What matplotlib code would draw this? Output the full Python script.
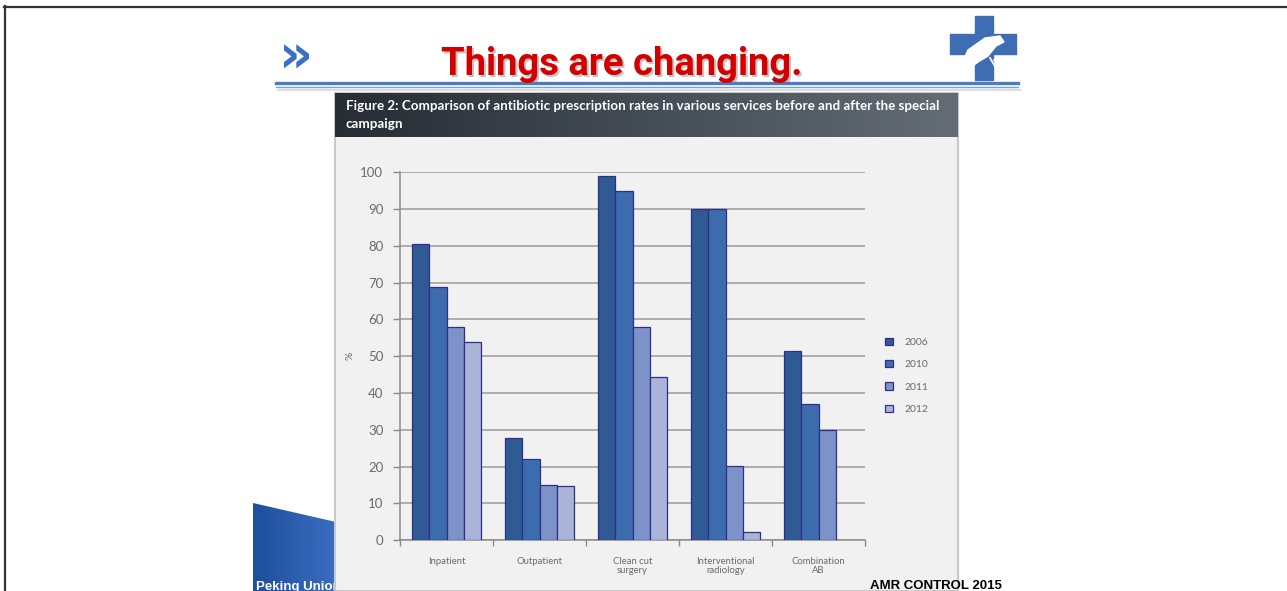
import numpy as np
import matplotlib
matplotlib.use("Agg")
import matplotlib.pyplot as plt
from matplotlib.patches import Polygon, Rectangle
from matplotlib.colors import LinearSegmentedColormap

# ---------------- data ----------------
categories = ["Inpatient", "Outpatient", "Clean cut\nsurgery",
              "Interventional\nradiology", "Combination\nAB"]
years = ["2006", "2010", "2011", "2012"]
y2006 = [80.5, 27.8, 99.1, 90.0, 51.5]
y2010 = [68.8, 22.1, 95.0, 90.0, 36.9]
y2011 = [58.0, 15.1, 58.0, 20.2, 29.9]
y2012 = [53.9, 14.7, 44.4, 2.3, np.nan]
yticks = [0, 10, 20, 30, 40, 50, 60, 70, 80, 90, 100]

series = [y2006, y2010, y2011, y2012]
colors = ["#2f5a93", "#3c6cae", "#7d92c8", "#aab4d8"]
edge = "#2e2f86"

W, H = 1287, 591
fig = plt.figure(figsize=(W / 100, H / 100), dpi=100)
fig.patch.set_facecolor("white")

# canvas axes in pixel coordinates
cv = fig.add_axes([0, 0, 1, 1])
cv.set_xlim(0, W)
cv.set_ylim(H, 0)
cv.axis("off")

# outer frame lines
cv.plot([4, W], [6.5, 6.5], color="#333333", lw=1.6, zorder=1)
cv.plot([4.5, 4.5], [6, H], color="#333333", lw=1.6, zorder=1)

# slide title
title_font = ["Roboto", "Liberation Sans"]
cv.text(624, 77, "Things are changing.", color="#8a8a8a", fontsize=27.5,
        fontweight="bold", family=title_font,
        ha="center", va="baseline", alpha=0.5, zorder=2)
cv.text(622, 75, "Things are changing.", color="#d40000", fontsize=27.5,
        fontweight="bold", family=title_font,
        ha="center", va="baseline", zorder=3)

# » icon
cv.text(296, 58, "\u00bb", color="#3a6fc4", fontsize=38, fontweight="bold",
        family="DejaVu Sans", ha="center", va="center", zorder=3)

# rule under title
cv.plot([276, 1018], [83, 83], color="#4a7cc6", lw=2.4, zorder=2)
cv.plot([276, 1018], [87, 87], color="#7aa0d8", lw=1.0, zorder=2)
cv.plot([278, 1020], [89.5, 89.5], color="#dddddd", lw=1.5, zorder=1)

# logo: cross with bird
cross_c = "#3e6db3"
cv.add_patch(Rectangle((975, 16), 18, 64, color=cross_c, zorder=2))
cv.add_patch(Rectangle((950, 34), 66, 20, color=cross_c, zorder=2))
bird = Polygon([[958, 72], [968, 50], [985, 38], [1000, 36], [1004, 42],
                [996, 46], [988, 56], [978, 62], [968, 70]],
               closed=True, color="white", zorder=3)
cv.add_patch(bird)
for k in range(3):
    cv.plot([990 + 4 * k, 1002 + 5 * k], [58 + 2 * k, 78], color="white",
            lw=1.2, zorder=3)

# bottom-left blue shape
grad = np.linspace(0, 1, 100).reshape(1, -1)
blue_cmap = LinearSegmentedColormap.from_list("b", ["#1e4f9c", "#3b6cc0"])
im = cv.imshow(grad, extent=[253, 336, 591, 500], cmap=blue_cmap,
               aspect="auto", zorder=1)
clip = Polygon([[253, 503], [336, 522], [336, 591], [253, 591]],
               closed=True, transform=cv.transData)
im.set_clip_path(clip)
cv.text(256, 590, "Peking Union", color="white", fontsize=9.5,
        fontweight="bold", family="Liberation Sans", ha="left",
        va="baseline", zorder=2)

# chart panel
cv.add_patch(Rectangle((335, 93), 623, 498, facecolor="#f1f1f1",
                       edgecolor="#c8c8c8", lw=1.5, zorder=4))
hdr = np.linspace(0, 1, 200).reshape(1, -1)
hdr_cmap = LinearSegmentedColormap.from_list("h", ["#262d34", "#444c55", "#646d75"])
cv.imshow(hdr, extent=[335, 958, 137, 93], cmap=hdr_cmap, aspect="auto",
          zorder=5)
cv.set_xlim(0, W)
cv.set_ylim(H, 0)
cv.text(346, 110, "Figure 2: Comparison of antibiotic prescription rates in "
        "various services before and after the special",
        color="white", fontsize=9.6, fontweight="bold", family="Lato",
        ha="left", va="baseline", zorder=6)
cv.text(346, 128, "campaign", color="white", fontsize=9.6, fontweight="bold",
        family="Lato", ha="left", va="baseline", zorder=6)

# footer text
cv.text(870, 589, "AMR CONTROL 2015", color="black", fontsize=9.5,
        fontweight="heavy", family="Liberation Sans", ha="left",
        va="baseline", zorder=7)

# ---------------- chart axes ----------------
L, R, T, B = 400, 865, 172.5, 540
ax = fig.add_axes([L / W, 1 - B / H, (R - L) / W, (B - T) / H], zorder=5)
ax.set_facecolor("none")

x = np.arange(len(categories))
bw = 0.186
for i, (vals, c, yr) in enumerate(zip(series, colors, years)):
    offs = (i - 1.5) * bw
    for xi, v in zip(x, vals):
        if np.isnan(v):
            continue
        ax.bar(xi + offs, v, width=bw, color=c, edgecolor=edge, lw=0.9,
               zorder=3)
    ax.bar(np.nan, np.nan, color=c, edgecolor=edge, lw=0.9, label=yr)

ax.set_xlim(-0.5, len(categories) - 0.5)
ax.set_ylim(0, 100)
ax.set_yticks(yticks)
ax.set_yticklabels([str(t) for t in yticks])
ax.yaxis.grid(True, color="#9a9a9a", lw=1.1, zorder=0)
ax.set_axisbelow(True)
for s in ["top", "right"]:
    ax.spines[s].set_visible(False)
for s in ["left", "bottom"]:
    ax.spines[s].set_color("#8a8a8a")
    ax.spines[s].set_linewidth(1.1)

ax.set_xticks(x)
ax.set_xticklabels(categories, fontsize=6.8, color="#6a6a6a", family="Lato",
                   linespacing=1.1)
ax.set_xticks(np.arange(-0.5, len(categories)), minor=True)
ax.tick_params(axis="x", which="major", length=0, pad=12)
ax.tick_params(axis="x", which="minor", length=4, color="#8a8a8a", width=1)
ax.tick_params(axis="y", length=5, color="#8a8a8a", width=1, pad=7,
               labelsize=9.5, labelcolor="#6a6a6a")
for lab in ax.get_yticklabels():
    lab.set_family("Lato")

ax.set_ylabel("%", fontsize=7.5, color="#6a6a6a", labelpad=4, family="Lato")

leg = ax.legend(loc="upper left", frameon=False,
                fontsize=7.5, handlelength=0.7, handleheight=0.7,
                labelspacing=1.25, handletextpad=1.1, borderaxespad=0)
leg.set_bbox_to_anchor((1.035, 0.562), transform=ax.transAxes)
for t in leg.get_texts():
    t.set_color("#6a6a6a")
    t.set_family("Lato")

fig.savefig("out.png", dpi=100, facecolor="white")
